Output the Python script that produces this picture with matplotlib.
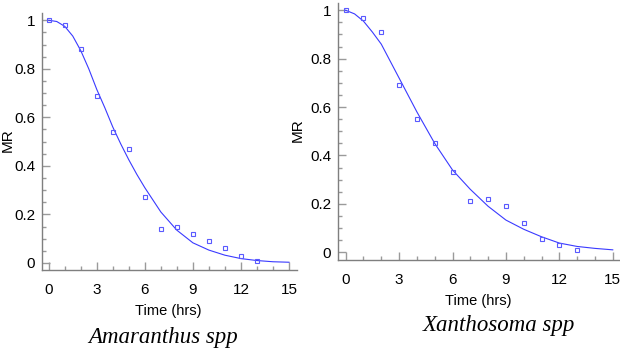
import matplotlib
matplotlib.use("Agg")
import matplotlib.pyplot as plt
from matplotlib.ticker import MultipleLocator
from matplotlib import font_manager

# ---- data ----
time_obs = [0, 1, 2, 3, 4, 5, 6, 7, 8, 9, 10, 11, 12, 13]
amaranthus_mr = [1.0, 0.98, 0.88, 0.69, 0.54, 0.47, 0.27, 0.14, 0.15, 0.12, 0.09, 0.06, 0.03, 0.01]
xanthosoma_mr = [1.0, 0.97, 0.91, 0.69, 0.55, 0.45, 0.33, 0.21, 0.22, 0.19, 0.12, 0.055, 0.03, 0.008]

amaranthus_fit_t = [0, 0.5, 1, 1.5, 2, 2.5, 3, 3.5, 4, 4.5, 5, 5.5, 6, 7, 8, 9, 10, 11, 12, 13, 14, 15]
amaranthus_fit = [1.0, 0.995, 0.975, 0.935, 0.875, 0.80, 0.715, 0.64, 0.56, 0.49, 0.425, 0.365, 0.31,
                  0.21, 0.135, 0.083, 0.053, 0.032, 0.018, 0.01, 0.005, 0.003]
xanthosoma_fit_t = [0, 0.5, 1, 1.5, 2, 3, 4, 5, 6, 7, 8, 9, 10, 11, 12, 13, 14, 15]
xanthosoma_fit = [1.0, 0.985, 0.955, 0.91, 0.86, 0.72, 0.58, 0.45, 0.34, 0.26, 0.19, 0.133,
                  0.095, 0.064, 0.038, 0.024, 0.016, 0.01]

x_ticks = [0, 3, 6, 9, 12, 15]
y_ticks = [0, 0.2, 0.4, 0.6, 0.8, 1]
y_tick_labels = ["0", "0.2", "0.4", "0.6", "0.8", "1"]
species = ["Amaranthus spp", "Xanthosoma spp"]

# ---- fonts ----
names = {f.name for f in font_manager.fontManager.ttflist}
sans = "Liberation Sans Narrow" if "Liberation Sans Narrow" in names else "Liberation Sans"

W, H = 620, 350
fig = plt.figure(figsize=(W / 100, H / 100), dpi=100)

def px_axes(l, r, t, b):
    return fig.add_axes([l / W, 1 - b / H, (r - l) / W, (b - t) / H])

ax1 = px_axes(42, 297, 13, 270)
ax2 = px_axes(338, 619, 3, 260)

line_c = "#3a3aff"
mark_c = "#5a5aff"
spine_c = "#7f7f7f"

panels = [
    (ax1, amaranthus_mr, amaranthus_fit_t, amaranthus_fit, (-0.42, 15.5), (-0.029, 1.03)),
    (ax2, xanthosoma_mr, xanthosoma_fit_t, xanthosoma_fit, (-0.43, 15.35), (-0.032, 1.03)),
]
for ax, obs, ft, fv, xl, yl in panels:
    ax.plot(ft, fv, color=line_c, lw=0.8)
    ax.plot(time_obs, obs, linestyle="none", marker="s", markersize=3.2,
            markerfacecolor="none", markeredgecolor=mark_c, markeredgewidth=0.8)
    ax.set_xlim(*xl)
    ax.set_ylim(*yl)
    for s in ["top", "right"]:
        ax.spines[s].set_visible(False)
    for s in ["left", "bottom"]:
        ax.spines[s].set_color(spine_c)
        ax.spines[s].set_linewidth(1.0)
    ax.set_xticks(x_ticks)
    ax.set_xticklabels([str(v) for v in x_ticks])
    ax.set_yticks(y_ticks)
    ax.set_yticklabels(y_tick_labels)
    ax.xaxis.set_minor_locator(MultipleLocator(1))
    ax.yaxis.set_minor_locator(MultipleLocator(0.05))
    ax.tick_params(which="both", direction="in", color="#9a9a9a", width=1.0)
    ax.tick_params(which="major", length=6)
    ax.tick_params(which="minor", length=3)
    ax.tick_params(axis="x", which="major", pad=9)
    ax.tick_params(axis="y", which="major", pad=5)
    for lab in ax.get_xticklabels() + ax.get_yticklabels():
        lab.set_fontfamily(sans)
        lab.set_fontsize(11)

def ftext(x, y, s, **kw):
    fig.text(x / W, 1 - y / H, s, ha="center", va="center", **kw)

ftext(168, 311, "Time (hrs)", fontfamily=sans, fontsize=10.5)
ftext(478, 301, "Time (hrs)", fontfamily=sans, fontsize=10.5)
ftext(8, 140, "MR", fontfamily=sans, fontsize=11, rotation=90)
ftext(298, 130, "MR", fontfamily=sans, fontsize=11, rotation=90)
ftext(163, 337, species[0], fontfamily="Liberation Serif", fontstyle="italic", fontsize=16.5)
ftext(499, 326, species[1], fontfamily="Liberation Serif", fontstyle="italic", fontsize=16.5)

fig.savefig("out.png", dpi=100)
